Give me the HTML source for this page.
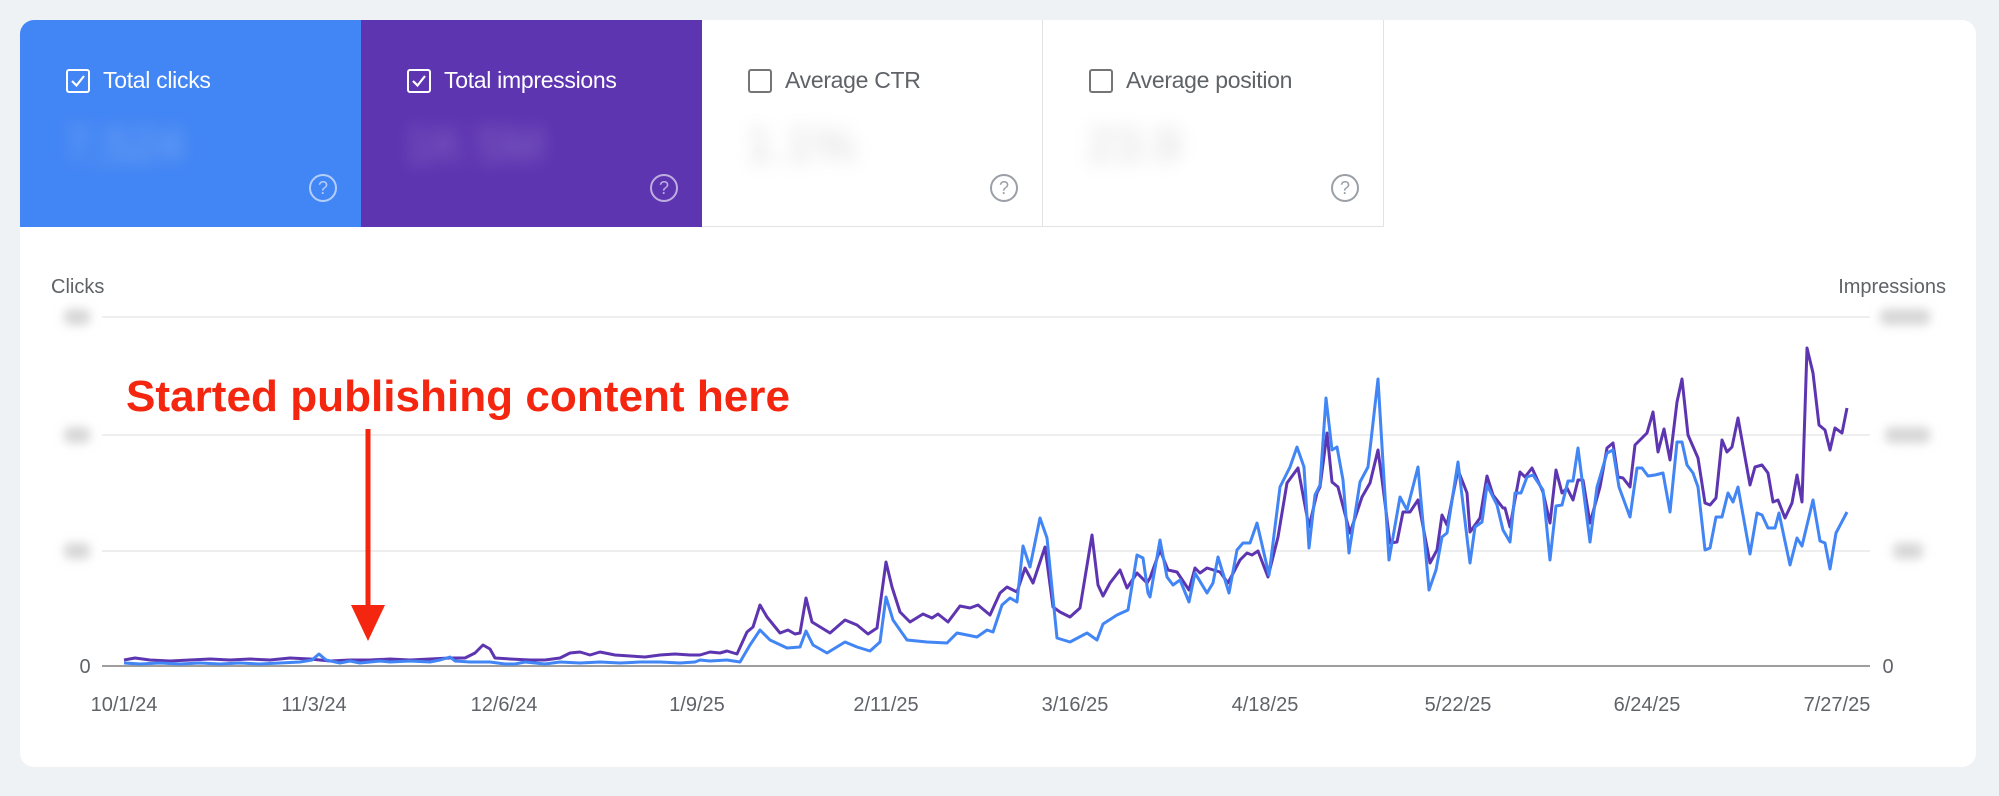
<!DOCTYPE html>
<html><head><meta charset="utf-8"><style>
html,body{margin:0;padding:0;background:#eff2f5;}
body{width:1999px;height:796px;overflow:hidden;position:relative;font-family:"Liberation Sans",sans-serif;}
.card{position:absolute;left:20px;top:20px;width:1956px;height:747px;background:#fff;border-radius:14px;overflow:hidden;}
.tab{position:absolute;top:0;height:207px;width:341px;box-sizing:border-box;}
.lbl{position:absolute;left:46px;top:47px;font-size:23px;display:flex;align-items:center;gap:13px;letter-spacing:-0.3px;}
.cb{width:20px;height:20px;border:2px solid currentColor;border-radius:3px;box-sizing:content-box;position:relative;}
.blur{position:absolute;left:44px;top:98px;font-size:48px;filter:blur(9px);}
.q{position:absolute;right:24px;top:154px;width:24px;height:24px;border:2px solid currentColor;border-radius:50%;font-size:18px;text-align:center;line-height:24px;}
</style></head><body>
<div class="card">
 <div class="tab" style="left:0;background:#4285f4;color:#fff;">
  <div class="lbl"><span class="cb"><svg width="20" height="20" style="position:absolute;left:0;top:0"><path d="M4 10 L8.5 14.5 L16 5" stroke="#fff" stroke-width="2.2" fill="none"/></svg></span>Total clicks</div>
  <div class="blur" style="color:rgba(255,255,255,.3)">7,524</div>
  <div class="q" style="color:rgba(255,255,255,.6)">?</div>
 </div>
 <div class="tab" style="left:341px;background:#5e35b1;color:#fff;">
  <div class="lbl"><span class="cb"><svg width="20" height="20" style="position:absolute;left:0;top:0"><path d="M4 10 L8.5 14.5 L16 5" stroke="#fff" stroke-width="2.2" fill="none"/></svg></span>Total impressions</div>
  <div class="blur" style="color:rgba(255,255,255,.25)">1K 5M</div>
  <div class="q" style="color:rgba(255,255,255,.6)">?</div>
 </div>
 <div class="tab" style="left:682px;color:#5f6368;border-right:1px solid #e3e3e3;border-bottom:1px solid #e3e3e3;">
  <div class="lbl"><span class="cb" style="border-color:#757575"></span>Average CTR</div>
  <div class="blur" style="color:rgba(0,0,0,.15)">1.1%</div>
  <div class="q" style="color:#9aa0a6">?</div>
 </div>
 <div class="tab" style="left:1023px;color:#5f6368;border-right:1px solid #e3e3e3;border-bottom:1px solid #e3e3e3;">
  <div class="lbl"><span class="cb" style="border-color:#757575"></span>Average position</div>
  <div class="blur" style="color:rgba(0,0,0,.15)">23.9</div>
  <div class="q" style="color:#9aa0a6">?</div>
 </div>
</div>
<svg width="1999" height="796" style="position:absolute;left:0;top:0">
 <defs><filter id="bl"><feGaussianBlur stdDeviation="5"/></filter></defs>
 <g font-family="Liberation Sans, sans-serif" fill="#5f6368" font-size="20">
  <text x="51" y="293">Clicks</text>
  <text x="1946" y="293" text-anchor="end">Impressions</text>
 </g>
 <g stroke="#e8e8e8" stroke-width="1.5">
  <line x1="102" y1="317" x2="1870" y2="317"/>
  <line x1="102" y1="435" x2="1870" y2="435"/>
  <line x1="102" y1="551" x2="1870" y2="551"/>
 </g>
 <line x1="102" y1="666" x2="1870" y2="666" stroke="#9e9e9e" stroke-width="2"/>
 <g fill="#d6d6d6" filter="url(#bl)">
  <rect x="64" y="309" width="26" height="16" rx="6"/>
  <rect x="64" y="427" width="26" height="16" rx="6"/>
  <rect x="64" y="543" width="26" height="16" rx="6"/>
  <rect x="1880" y="309" width="50" height="16" rx="6"/>
  <rect x="1885" y="427" width="45" height="16" rx="6"/>
  <rect x="1893" y="543" width="30" height="16" rx="6"/>
 </g>
 <g font-family="Liberation Sans, sans-serif" fill="#5f6368" font-size="20">
  <text x="85" y="673" text-anchor="middle">0</text>
  <text x="1888" y="673" text-anchor="middle">0</text>
  <g text-anchor="middle">
   <text x="124" y="711">10/1/24</text><text x="314" y="711">11/3/24</text><text x="504" y="711">12/6/24</text>
   <text x="697" y="711">1/9/25</text><text x="886" y="711">2/11/25</text><text x="1075" y="711">3/16/25</text>
   <text x="1265" y="711">4/18/25</text><text x="1458" y="711">5/22/25</text><text x="1647" y="711">6/24/25</text>
   <text x="1837" y="711">7/27/25</text>
  </g>
 </g>
 <polyline fill="none" stroke="#5e35b1" stroke-width="3" stroke-linejoin="round" points="124,660 135,658 150,660 170,661 190,660 210,659 230,660 250,659 270,660 290,658 310,659 330,661 350,660 370,660 390,659 410,660 430,659 450,658 465,658 475,653 483,645 490,649 495,658 510,659 530,660 545,660 560,658 570,653 580,652 590,655 600,652 615,655 630,656 645,657 660,655 675,654 690,655 700,655 710,652 720,653 727,651 737,654 747,632 753,627 760,605 767,617 780,633 788,630 795,634 800,633 806,598 812,622 830,633 845,620 857,625 868,634 877,628 886,562 892,587 900,612 910,622 923,614 932,618 938,614 948,622 960,606 970,608 978,605 990,615 1000,593 1007,587 1017,592 1025,568 1033,583 1045,547 1053,607 1060,612 1070,617 1080,608 1092,535 1098,585 1103,596 1110,583 1120,570 1127,588 1137,573 1147,583 1150,578 1160,550 1168,570 1177,572 1189,590 1195,568 1200,573 1207,568 1220,572 1228,583 1240,560 1247,553 1252,555 1258,551 1268,577 1278,537 1287,483 1298,468 1309,527 1317,493 1320,487 1327,433 1332,482 1338,487 1350,533 1362,497 1370,483 1378,450 1383,487 1390,543 1397,542 1403,512 1410,512 1418,500 1430,563 1437,550 1442,515 1447,525 1458,470 1467,493 1470,532 1480,518 1487,476 1493,495 1503,508 1505,508 1510,527 1520,472 1525,477 1532,468 1543,492 1550,523 1556,470 1562,493 1567,488 1573,500 1578,480 1583,480 1590,523 1600,487 1607,448 1613,443 1618,477 1623,478 1630,487 1635,445 1647,433 1653,412 1658,452 1664,429 1670,460 1677,402 1682,379 1688,435 1698,458 1705,503 1710,505 1716,498 1722,440 1727,452 1732,447 1738,418 1750,485 1755,467 1762,465 1768,473 1773,502 1778,500 1785,518 1792,503 1797,475 1802,502 1807,348 1813,373 1819,425 1825,430 1830,450 1835,428 1842,433 1847,408"/>
 <polyline fill="none" stroke="#4285f4" stroke-width="3" stroke-linejoin="round" points="124,663 140,664 160,663 180,664 200,663 220,664 240,663 260,664 280,663 300,662 312,660 319,654 326,660 340,663 350,661 360,663 370,662 380,661 390,662 410,661 430,662 440,660 450,657 455,661 470,662 490,662 505,664 515,664 525,662 545,664 560,662 580,663 600,662 620,663 640,662 660,662 680,663 695,662 700,660 710,661 727,660 740,662 750,645 760,630 770,640 787,648 800,647 806,631 813,645 827,653 845,642 857,647 870,651 880,642 886,597 893,620 907,640 927,642 947,643 957,633 967,635 977,637 987,630 993,632 1002,605 1010,598 1017,602 1023,546 1030,567 1040,518 1047,538 1057,638 1070,642 1087,633 1097,640 1103,624 1117,615 1128,610 1137,555 1143,558 1148,593 1150,597 1160,540 1167,577 1173,585 1180,580 1189,602 1195,573 1207,593 1213,583 1218,557 1229,593 1237,550 1243,543 1250,543 1257,523 1269,575 1280,487 1290,467 1297,447 1304,467 1309,548 1315,495 1320,485 1326,398 1332,450 1337,447 1343,480 1349,553 1360,482 1368,467 1378,379 1383,463 1389,560 1400,497 1407,510 1418,467 1429,590 1436,570 1442,537 1447,533 1458,462 1470,563 1475,527 1482,522 1487,485 1497,505 1503,530 1510,542 1515,493 1521,493 1527,477 1533,475 1543,490 1550,560 1556,506 1562,505 1568,481 1573,481 1578,448 1590,542 1597,487 1607,453 1613,450 1619,487 1630,517 1637,468 1642,468 1648,476 1655,475 1663,473 1670,512 1677,442 1682,442 1687,465 1693,473 1698,487 1705,550 1710,548 1716,517 1722,517 1728,493 1733,502 1738,487 1750,554 1757,513 1762,515 1768,528 1775,528 1779,513 1790,565 1797,538 1802,546 1813,500 1820,541 1825,543 1830,569 1836,533 1847,512"/>
 <text x="126" y="411" font-family="Liberation Sans, sans-serif" font-weight="bold" font-size="44" fill="#f4260f" textLength="664" lengthAdjust="spacingAndGlyphs">Started publishing content here</text>
 <line x1="368" y1="429" x2="368" y2="610" stroke="#f4260f" stroke-width="5"/>
 <polygon points="351,605 385,605 368,641" fill="#f4260f"/>
</svg>
</body></html>
